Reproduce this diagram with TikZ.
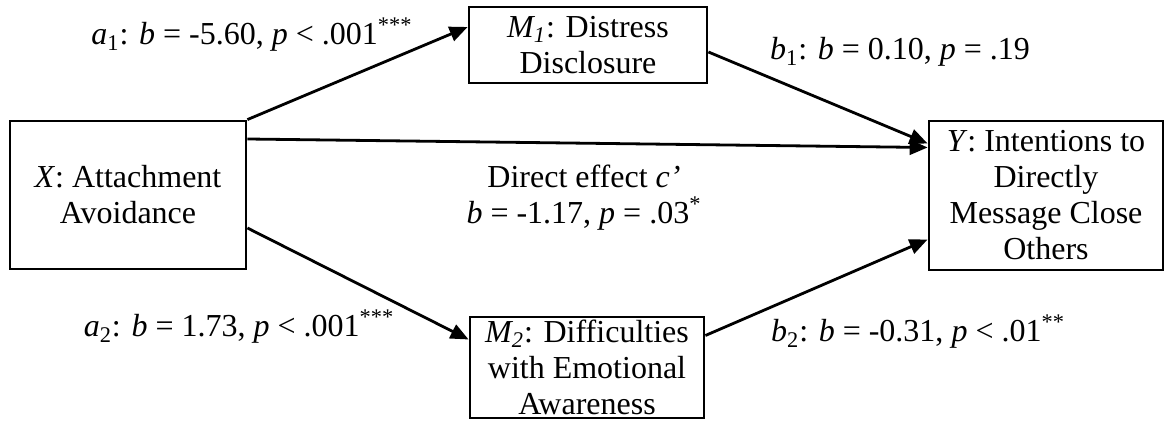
\documentclass[tikz,border=0pt]{standalone}
\usepackage{fontspec}
\setmainfont{Liberation Serif}
\usetikzlibrary{arrows.meta}
\begin{document}
\begin{tikzpicture}
[x=0.5pt,y=-0.5pt,
 nodedecorate/.style={shape=rectangle,draw,line width=1.4pt,inner sep=0pt,
   align=center,font=\fontsize{16}{18}\selectfont},%
 labeldecorate/.style={inner sep=0pt,anchor=base,font=\fontsize{16}{18}\selectfont},%
 arrowdecorate/.style={-{Triangle[length=9pt,width=7.5pt]},line width=1.4pt}]
\useasboundingbox (0,0) rectangle (1165,421);
%% boxes
\foreach \nodename/\x/\y/\w/\h/\txt in {
  X/128/195/118pt/74pt/{\textit{X}: Attachment\\Avoidance},
  M1/588/45/119pt/38pt/{\textit{M\textsubscript{1}}: Distress\\Disclosure},
  M2/587/367.5/117pt/50.5pt/{\textit{M\textsubscript{2}}: Difficulties\\with Emotional\\Awareness},
  Y/1046/195.5/117pt/74.5pt/{\textit{Y}: Intentions to\\Directly\\Message Close\\Others}} {
  \node (\nodename) at (\x,\y) [nodedecorate,minimum width=\w,minimum height=\h] {\txt};
}
%% paths
\foreach \startnode/\sshift/\endnode/\eshift in {X.north east/0pt/M1.west/9pt,
  X.east/28pt/Y.west/24pt, M1.east/-3.5pt/Y.west/26pt,
  X.east/-16.5pt/M2.west/14pt, M2.east/16pt/Y.west/-22pt} {
  \draw[arrowdecorate] ([yshift=\sshift]\startnode) -- ([yshift=\eshift]\endnode);
}
%% coefficients
\foreach \labelname/\x/\y/\txt in {
  a1/252/45/{\textit{a}\textsubscript{1}: \textit{b} = -5.60, \textit{p} < .001\textsuperscript{***}},
  b1/900/60/{\textit{b}\textsubscript{1}: \textit{b} = 0.10, \textit{p} = .19},
  a2/239/337/{\textit{a}\textsubscript{2}: \textit{b} = 1.73, \textit{p} < .001\textsuperscript{***}},
  b2/918/342/{\textit{b}\textsubscript{2}: \textit{b} = -0.31, \textit{p} < .01\textsuperscript{**}}} {
  \node (\labelname) at (\x,\y) [labeldecorate] {\txt};
}
\node (direct) at (584,198) [labeldecorate,anchor=center,align=center]
  {Direct effect \textit{c’}\\\textit{b} = -1.17, \textit{p} = .03\textsuperscript{*}};
\end{tikzpicture}
\end{document}
